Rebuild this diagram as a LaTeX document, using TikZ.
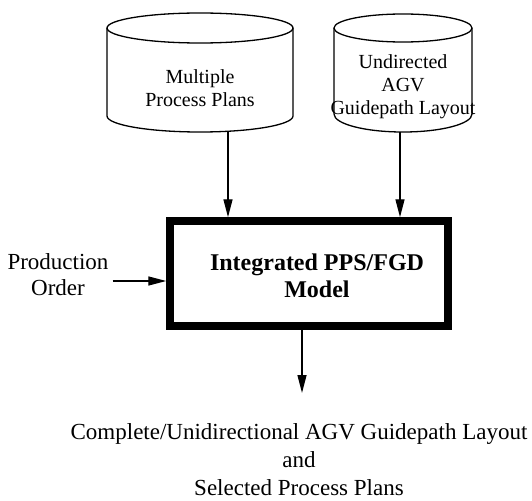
\documentclass[tikz,border=0pt]{standalone}
\usepackage{fontspec}
\setmainfont{Liberation Serif}
\usetikzlibrary{arrows.meta}
\begin{document}
\begin{tikzpicture}[x=1pt,y=-1pt,
  cyl/.style={line width=1.3pt},
  cyltext/.style={align=center,font=\fontsize{20}{23}\selectfont,inner sep=0pt},
  bigtext/.style={align=center,font=\fontsize{23}{26}\selectfont,inner sep=0pt},
  conn/.style={line width=1.4pt,-{Triangle[length=18pt,width=9pt]}},
  modelbox/.style={draw,line width=7.5pt,minimum width=278pt,minimum height=105pt,inner sep=0pt}]
\useasboundingbox (0,0) rectangle (532,500);
% cylinder 1
\draw[cyl] (200,28) ellipse[x radius=93pt,y radius=15pt];
\draw[cyl] (107,28) -- (107,116) arc[start angle=180,end angle=360,x radius=93pt,y radius=16pt] -- (293,28);
\node[cyltext] (plans) at (200,88) {Multiple\\Process Plans};
\coordinate (plansb) at (228,131);
% cylinder 2
\draw[cyl] (403,28) ellipse[x radius=69pt,y radius=14pt];
\draw[cyl] (334,28) -- (334,114) arc[start angle=180,end angle=360,x radius=69pt,y radius=18pt] -- (472,28);
\node[cyltext] (layout) at (403,87) {Undirected\\AGV\\Guidepath Layout};
\coordinate (layoutb) at (400,132);
% model box
\node[modelbox] (model) at (309,273.5) {};
\node[bigtext,font=\fontsize{24}{27}\selectfont\bfseries] (modeltext) at (317,276) {Integrated PPS/FGD\\Model};
% production order
\node[bigtext] (order) at (58,275) {Production\\Order};
\draw[conn] (order.east |- 0,281) ++(4,0) coordinate (ordere) -- (ordere -| model.west);
% arrows
\draw[conn] (plansb) -- (plansb |- model.north);
\draw[conn] (layoutb) -- (layoutb |- model.north);
\coordinate (outend) at (302,393);
\draw[conn] (model.south -| outend) -- (outend);
\node[align=center,inner sep=0pt,font=\fontsize{23}{28}\selectfont] (result) at (299,460) {Complete/Unidirectional AGV Guidepath Layout\\and\\Selected Process Plans};
\end{tikzpicture}
\end{document}
